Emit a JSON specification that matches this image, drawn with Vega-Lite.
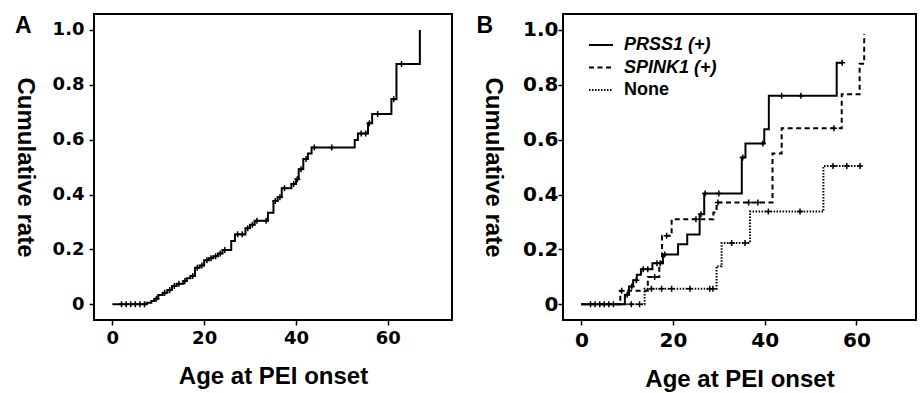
{
  "$schema": "https://vega.github.io/schema/vega-lite/v6.json",
  "background": "white",
  "padding": {"left": 11, "top": 13, "right": 0, "bottom": 0},
  "spacing": 22,
  "resolve": {"legend": {"strokeDash": "independent"}},
  "config": {
    "view": {"stroke": "black", "strokeWidth": 2},
    "axis": {
      "grid": false, "domain": false, "tickColor": "black", "tickSize": 5, "tickWidth": 1.5,
      "labelColor": "black", "labelFont": "DejaVu Sans", "labelFontWeight": "bold", "labelFontSize": 18,
      "titleFont": "Liberation Sans", "titleFontWeight": "bold", "titleFontSize": 24, "titleColor": "black"
    },
    "title": {"font": "Liberation Sans", "fontSize": 23, "fontWeight": "bold", "color": "black", "anchor": "start", "frame": "bounds", "offset": 0}
  },
  "datasets": {
    "stepsA": [
      {"t": 0, "r": 0}, {"t": 7.5, "r": 0.006}, {"t": 8.5, "r": 0.012}, {"t": 9.2, "r": 0.02}, {"t": 10, "r": 0.034},
      {"t": 11, "r": 0.042}, {"t": 12, "r": 0.052}, {"t": 13, "r": 0.067}, {"t": 14, "r": 0.075}, {"t": 15.5, "r": 0.085},
      {"t": 16.2, "r": 0.095}, {"t": 17, "r": 0.103}, {"t": 18, "r": 0.133}, {"t": 19, "r": 0.142}, {"t": 20, "r": 0.161},
      {"t": 21, "r": 0.168}, {"t": 22, "r": 0.175}, {"t": 23, "r": 0.185}, {"t": 24, "r": 0.198}, {"t": 25.9, "r": 0.231},
      {"t": 26.7, "r": 0.255}, {"t": 29, "r": 0.277}, {"t": 30, "r": 0.29}, {"t": 31, "r": 0.305}, {"t": 33.9, "r": 0.334},
      {"t": 35.1, "r": 0.377}, {"t": 36, "r": 0.39}, {"t": 36.9, "r": 0.423}, {"t": 39, "r": 0.439}, {"t": 40, "r": 0.456},
      {"t": 40.6, "r": 0.492}, {"t": 41.6, "r": 0.53}, {"t": 42.6, "r": 0.55}, {"t": 43.4, "r": 0.572}, {"t": 52.8, "r": 0.599},
      {"t": 53.5, "r": 0.623}, {"t": 55.7, "r": 0.66}, {"t": 56.6, "r": 0.694}, {"t": 60.8, "r": 0.747}, {"t": 61.9, "r": 0.876},
      {"t": 67, "r": 1.0}
    ],
    "censA": [
      {"t": 2, "r": 0}, {"t": 3, "r": 0}, {"t": 4, "r": 0}, {"t": 5, "r": 0}, {"t": 6, "r": 0}, {"t": 7, "r": 0},
      {"t": 9.6, "r": 0.02}, {"t": 11.4, "r": 0.042}, {"t": 12.5, "r": 0.052}, {"t": 13.5, "r": 0.067}, {"t": 14.5, "r": 0.075},
      {"t": 15.8, "r": 0.085}, {"t": 17.5, "r": 0.103}, {"t": 18.5, "r": 0.133}, {"t": 19.5, "r": 0.142}, {"t": 20.6, "r": 0.161},
      {"t": 21.5, "r": 0.168}, {"t": 22.5, "r": 0.175}, {"t": 23.5, "r": 0.185}, {"t": 24.5, "r": 0.198}, {"t": 27.3, "r": 0.255},
      {"t": 28.3, "r": 0.255}, {"t": 29.5, "r": 0.277}, {"t": 30.5, "r": 0.29}, {"t": 31.5, "r": 0.305}, {"t": 33.5, "r": 0.305},
      {"t": 35.5, "r": 0.377}, {"t": 36.5, "r": 0.39}, {"t": 37.5, "r": 0.423}, {"t": 39.5, "r": 0.439}, {"t": 40.3, "r": 0.456},
      {"t": 41.1, "r": 0.492}, {"t": 42.2, "r": 0.53}, {"t": 44, "r": 0.572}, {"t": 47.8, "r": 0.572}, {"t": 54.2, "r": 0.623},
      {"t": 55.2, "r": 0.623}, {"t": 56, "r": 0.66}, {"t": 57.8, "r": 0.694}, {"t": 61.3, "r": 0.747}, {"t": 63, "r": 0.876}
    ],
    "stepsB": [
      {"series": "PRSS1 (+)", "t": 0, "r": 0}, {"series": "PRSS1 (+)", "t": 9.5, "r": 0.035}, {"series": "PRSS1 (+)", "t": 10.4, "r": 0.065},
      {"series": "PRSS1 (+)", "t": 11.3, "r": 0.088}, {"series": "PRSS1 (+)", "t": 12.1, "r": 0.108}, {"series": "PRSS1 (+)", "t": 13, "r": 0.128},
      {"series": "PRSS1 (+)", "t": 15.5, "r": 0.15}, {"series": "PRSS1 (+)", "t": 17.8, "r": 0.182}, {"series": "PRSS1 (+)", "t": 21.1, "r": 0.219},
      {"series": "PRSS1 (+)", "t": 23.1, "r": 0.255}, {"series": "PRSS1 (+)", "t": 25.8, "r": 0.328}, {"series": "PRSS1 (+)", "t": 26.8, "r": 0.404},
      {"series": "PRSS1 (+)", "t": 35, "r": 0.535}, {"series": "PRSS1 (+)", "t": 35.8, "r": 0.586}, {"series": "PRSS1 (+)", "t": 39.9, "r": 0.638},
      {"series": "PRSS1 (+)", "t": 40.9, "r": 0.76}, {"series": "PRSS1 (+)", "t": 55.7, "r": 0.88}, {"series": "PRSS1 (+)", "t": 57, "r": 0.88},
      {"series": "SPINK1 (+)", "t": 0, "r": 0}, {"series": "SPINK1 (+)", "t": 8.5, "r": 0.05}, {"series": "SPINK1 (+)", "t": 14.5, "r": 0.1},
      {"series": "SPINK1 (+)", "t": 17, "r": 0.15}, {"series": "SPINK1 (+)", "t": 17.6, "r": 0.25}, {"series": "SPINK1 (+)", "t": 19.7, "r": 0.31},
      {"series": "SPINK1 (+)", "t": 28.8, "r": 0.335}, {"series": "SPINK1 (+)", "t": 29.5, "r": 0.371}, {"series": "SPINK1 (+)", "t": 41.7, "r": 0.55},
      {"series": "SPINK1 (+)", "t": 43.7, "r": 0.642}, {"series": "SPINK1 (+)", "t": 56.8, "r": 0.766}, {"series": "SPINK1 (+)", "t": 60.7, "r": 0.877},
      {"series": "SPINK1 (+)", "t": 61.7, "r": 0.985},
      {"series": "None", "t": 0, "r": 0}, {"series": "None", "t": 13.8, "r": 0.057}, {"series": "None", "t": 29.5, "r": 0.139},
      {"series": "None", "t": 30.6, "r": 0.224}, {"series": "None", "t": 36.8, "r": 0.338}, {"series": "None", "t": 52.8, "r": 0.504},
      {"series": "None", "t": 61, "r": 0.504}
    ],
    "censB": [
      {"t": 2, "r": 0}, {"t": 3, "r": 0}, {"t": 4, "r": 0}, {"t": 5, "r": 0}, {"t": 6, "r": 0}, {"t": 7, "r": 0},
      {"t": 10, "r": 0.035}, {"t": 11, "r": 0.065}, {"t": 12, "r": 0.088}, {"t": 13.5, "r": 0.128}, {"t": 14.5, "r": 0.128},
      {"t": 16.5, "r": 0.15}, {"t": 17.2, "r": 0.15}, {"t": 18.2, "r": 0.182}, {"t": 26.1, "r": 0.328}, {"t": 27, "r": 0.404},
      {"t": 30, "r": 0.404}, {"t": 35.2, "r": 0.535}, {"t": 39.6, "r": 0.586}, {"t": 43.7, "r": 0.76}, {"t": 47.9, "r": 0.76},
      {"t": 56.9, "r": 0.88},
      {"t": 8.8, "r": 0.05}, {"t": 16, "r": 0.1}, {"t": 18.6, "r": 0.25}, {"t": 25, "r": 0.31}, {"t": 29.8, "r": 0.371},
      {"t": 36.5, "r": 0.371}, {"t": 38.5, "r": 0.371}, {"t": 55.1, "r": 0.642},
      {"t": 10.9, "r": 0}, {"t": 12.7, "r": 0}, {"t": 15.3, "r": 0.057}, {"t": 17.5, "r": 0.057}, {"t": 19.7, "r": 0.057},
      {"t": 23.7, "r": 0.057}, {"t": 28, "r": 0.057}, {"t": 28.7, "r": 0.057}, {"t": 32.8, "r": 0.224}, {"t": 35.7, "r": 0.224},
      {"t": 40.8, "r": 0.338}, {"t": 47.7, "r": 0.338}, {"t": 54.9, "r": 0.504}, {"t": 57.9, "r": 0.504}, {"t": 60.8, "r": 0.504}
    ]
  },
  "hconcat": [
    {
      "title": {"text": "A", "dy": 28, "dx": 3},
      "width": 358,
      "height": 306,
      "layer": [
        {
          "data": {"name": "stepsA"},
          "mark": {"type": "line", "interpolate": "step-after", "color": "black", "strokeWidth": 2},
          "encoding": {
            "x": {"field": "t", "type": "quantitative", "scale": {"domain": [-4, 74], "nice": false, "zero": false},
                  "axis": {"values": [0, 20, 40, 60], "title": "Age at PEI onset", "labelPadding": 4, "titlePadding": 17}},
            "y": {"field": "r", "type": "quantitative", "scale": {"domain": [-0.057, 1.058], "nice": false, "zero": false},
                  "axis": {"values": [0, 0.2, 0.4, 0.6, 0.8, 1], "labelExpr": "datum.value == 0 ? '0' : format(datum.value, '.1f')",
                           "title": "Cumulative rate", "titleAngle": 90, "titleBaseline": "top", "labelPadding": 5, "titlePadding": 16}}
          }
        },
        {
          "data": {"name": "censA"},
          "mark": {"type": "point", "shape": "M0,-1L0,1M-1,0L1,0", "filled": false, "color": "black", "strokeWidth": 1.5, "size": 36, "opacity": 1},
          "encoding": {
            "x": {"field": "t", "type": "quantitative"},
            "y": {"field": "r", "type": "quantitative"}
          }
        }
      ]
    },
    {
      "title": {"text": "B", "dy": 28, "dx": -4},
      "width": 353,
      "height": 306,
      "layer": [
        {
          "data": {"name": "stepsB"},
          "mark": {"type": "line", "interpolate": "step-after", "color": "black", "strokeWidth": 2},
          "encoding": {
            "x": {"field": "t", "type": "quantitative", "scale": {"domain": [-4, 73], "nice": false, "zero": false},
                  "axis": {"values": [0, 20, 40, 60], "title": "Age at PEI onset", "labelPadding": 5, "titlePadding": 17, "labelFontSize": 20}},
            "y": {"field": "r", "type": "quantitative", "scale": {"domain": [-0.057, 1.058], "nice": false, "zero": false},
                  "axis": {"values": [0, 0.2, 0.4, 0.6, 0.8, 1], "labelExpr": "datum.value == 0 ? '0' : format(datum.value, '.1f')",
                           "title": "Cumulative rate", "titleAngle": 90, "titleBaseline": "top", "labelPadding": 0, "titlePadding": 18, "labelFontSize": 20}},
            "strokeDash": {
              "field": "series", "type": "nominal",
              "scale": {"domain": ["PRSS1 (+)", "SPINK1 (+)", "None"], "range": [[1, 0], [5, 3.5], [1.5, 1.5]]},
              "legend": {
                "title": null, "orient": "none", "legendX": 25, "legendY": 18, "padding": 0,
                "symbolType": "stroke", "symbolSize": 576, "symbolStrokeWidth": 2, "symbolStrokeColor": "black",
                "labelFont": "Liberation Sans", "labelFontSize": 18, "labelFontWeight": "bold", "labelColor": "black",
                "labelOffset": 10, "rowPadding": 0.5, "labelLimit": 300,
                "encode": {"labels": {"update": {"fontStyle": {"signal": "datum.label == 'None' ? 'normal' : 'italic'"}}}}
              }
            }
          }
        },
        {
          "data": {"name": "censB"},
          "mark": {"type": "point", "shape": "M0,-1L0,1M-1,0L1,0", "filled": false, "color": "black", "strokeWidth": 1.5, "size": 36, "opacity": 1},
          "encoding": {
            "x": {"field": "t", "type": "quantitative"},
            "y": {"field": "r", "type": "quantitative"}
          }
        }
      ]
    }
  ]
}
